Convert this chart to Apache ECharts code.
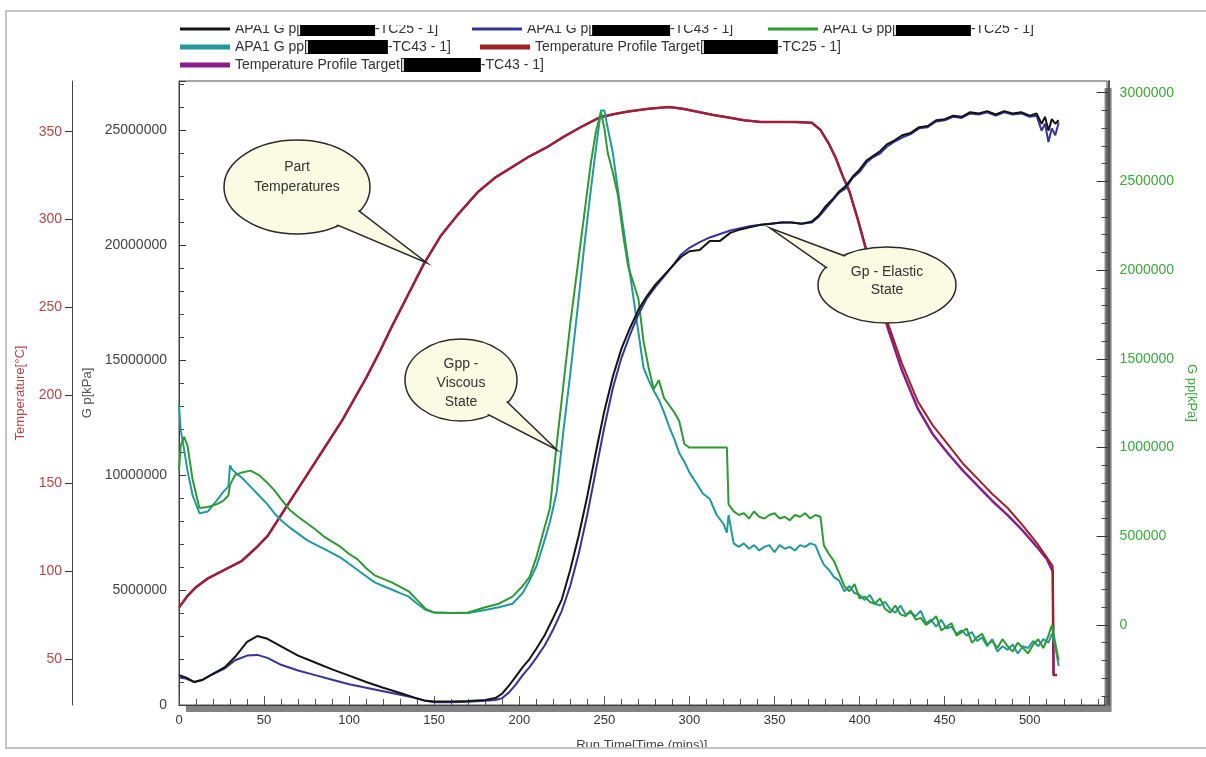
<!DOCTYPE html>
<html>
<head>
<meta charset="utf-8">
<title>Rheology run</title>
<script src="https://cdn.jsdelivr.net/npm/echarts@6/dist/echarts.min.js"></script>
<style>
  html, body { margin: 0; padding: 0; background: #fff; }
  #chart { width: 1206px; height: 757px; }
</style>
</head>
<body>
<div id="chart"></div>
<script>
// temperature profile targets (deg C) against run time (mins)
const tempTime = [0, 5, 10, 17, 27, 37, 46, 52, 56, 62, 70, 76, 86, 96, 103, 110, 118, 125, 135, 144,
  154, 164, 176, 186, 196, 206, 216, 226, 236, 247, 256, 264, 276, 288, 296, 304, 314, 323, 332, 342,
  352, 362, 372, 377, 382, 386, 390, 394, 399, 404, 410, 417, 425, 434, 443, 452, 461, 470, 478, 487,
  496, 505, 510, 513.5, 514, 516]
const tempTC25 = [79.5, 86, 91, 96, 101, 106, 114, 120, 126, 135, 147, 156, 171, 186, 198, 210, 225, 239, 258, 275,
  291, 303, 316, 324, 330, 336, 341, 347, 352.5, 358, 360, 361.5, 363, 364, 363, 361.5, 359.5, 358, 356.5, 355.5,
  355.5, 355.5, 355, 351, 343, 335, 325, 316, 300, 283, 262, 240, 218, 197, 183, 172, 161, 152, 144, 136,
  126, 115, 108, 103, 41, 41]
const tempTC43 = [79.5, 86, 91, 96, 101, 106, 114, 120, 126, 135, 147, 156, 171, 186, 198, 210, 225, 239, 258, 275,
  291, 303, 316, 324, 330, 336, 341, 347, 352.5, 358, 360, 361.5, 363, 364, 363, 361.5, 359.5, 358, 356.5, 355.5,
  355.5, 355.5, 355, 351, 343, 335, 325, 316, 300, 282, 260, 237, 214, 193, 178, 167, 157, 148, 140, 132,
  123, 113, 107, 100, 41, 41]

// G p (elastic), millions of kPa
const gpTime = [0, 4, 9, 14, 20, 27, 33, 40, 46, 52, 60, 70, 80, 90, 100, 110, 120, 130, 138, 144,
  150, 160, 170, 180, 186, 190, 194, 198, 202, 206, 210, 215, 220, 225, 230, 235, 240, 245, 250, 255,
  260, 265, 270, 275, 280, 285, 290, 295, 300, 306, 312, 318, 324, 330, 336, 342, 348, 354, 360, 366,
  372, 376, 380, 384, 388, 392, 396, 400, 404, 408, 412, 416, 420, 425, 430, 435, 440, 445, 450, 455,
  460, 465, 470, 475, 480, 485, 490, 495, 500, 504, 507, 509, 511, 513, 515, 517]
const gpTC25 = [1.3, 1.2, 1.0, 1.1, 1.35, 1.65, 2.1, 2.75, 3.0, 2.88, 2.55, 2.15, 1.85, 1.55, 1.28, 1.0, 0.75, 0.52, 0.33, 0.2,
  0.15, 0.15, 0.17, 0.22, 0.3, 0.5, 0.85, 1.25, 1.65, 2.0, 2.45, 3.05, 3.8, 4.6, 5.9, 7.4, 9.1, 11.0, 12.8, 14.3,
  15.5, 16.4, 17.2, 17.8, 18.3, 18.7, 19.1, 19.5, 19.75, 19.8, 20.2, 20.2, 20.55, 20.7, 20.8, 20.9, 20.95, 21.0, 21.0, 20.95,
  21.05, 21.3, 21.7, 22.0, 22.35, 22.6, 23.0, 23.3, 23.7, 23.9, 24.1, 24.4, 24.55, 24.8, 24.9, 25.15, 25.2, 25.45, 25.5, 25.65,
  25.6, 25.8, 25.75, 25.85, 25.7, 25.85, 25.75, 25.8, 25.65, 25.75, 25.3, 25.6, 25.0, 25.5, 25.3, 25.45]
const gpTC43 = [1.2, 1.15, 1.0, 1.1, 1.35, 1.6, 1.95, 2.15, 2.18, 2.05, 1.75, 1.5, 1.3, 1.1, 0.9, 0.75, 0.6, 0.45, 0.32, 0.2,
  0.12, 0.12, 0.14, 0.18, 0.22, 0.3, 0.55, 0.9, 1.3, 1.65, 2.05, 2.6, 3.3, 4.1, 5.2, 6.6, 8.3, 10.2, 12.1, 13.8,
  15.1, 16.1, 17.0, 17.7, 18.2, 18.65, 19.1, 19.6, 19.9, 20.15, 20.35, 20.5, 20.65, 20.75, 20.85, 20.9, 20.95, 21.0, 21.0, 20.95,
  21.0, 21.25, 21.6, 21.95, 22.3, 22.5, 22.95, 23.2, 23.6, 23.85, 24.0, 24.3, 24.5, 24.7, 24.85, 25.1, 25.15, 25.4, 25.45, 25.6,
  25.55, 25.75, 25.7, 25.8, 25.65, 25.8, 25.7, 25.75, 25.6, 25.65, 25.0, 25.3, 24.5, 25.1, 24.8, 25.35]

// G pp (viscous), millions of kPa
const gppTime = [0, 1, 3, 5, 8, 12, 17, 22, 26, 29, 30, 31, 33, 37, 42, 47, 52, 56, 60, 65,
  70, 75, 80, 85, 90, 95, 100, 105, 110, 115, 120, 125, 130, 135, 140, 145, 150, 160, 170, 180,
  188, 196, 202, 206, 210, 214, 218, 222, 226, 230, 234, 238, 242, 245, 248, 250, 252, 255, 258, 261,
  264, 267, 270, 273, 276, 279, 282, 285, 288, 291, 294, 297, 300, 304, 308, 312, 316, 320, 322, 323,
  326, 329, 332, 335, 338, 341, 344, 347, 350, 353, 356, 359, 362, 365, 368, 371, 374, 377, 379, 382,
  385, 388, 391, 394, 397, 400, 403, 406, 409, 412, 415, 418, 421, 424, 427, 430, 433, 436, 439, 442,
  445, 448, 451, 454, 457, 460, 463, 466, 469, 472, 475, 478, 481, 484, 487, 490, 493, 496, 499, 502,
  505, 508, 511, 513, 515, 517]
const gppTC25 = [0.87, 1.01, 1.06, 1.01, 0.82, 0.66, 0.665, 0.68, 0.70, 0.73, 0.79, 0.81, 0.845, 0.86, 0.87, 0.845, 0.80, 0.76, 0.71, 0.65,
  0.61, 0.575, 0.54, 0.50, 0.47, 0.44, 0.40, 0.37, 0.32, 0.28, 0.26, 0.24, 0.215, 0.19, 0.14, 0.09, 0.07, 0.068, 0.07, 0.10,
  0.12, 0.16, 0.22, 0.27, 0.38, 0.52, 0.66, 1.02, 1.36, 1.70, 2.0, 2.3, 2.6, 2.78, 2.89, 2.8, 2.66, 2.55, 2.42, 2.2,
  2.02, 1.93, 1.84, 1.6, 1.45, 1.33, 1.38, 1.28, 1.24, 1.2, 1.15, 1.02, 1.0, 1.0, 1.0, 1.0, 1.0, 1.0, 1.0, 0.68,
  0.64, 0.62, 0.63, 0.60, 0.64, 0.61, 0.60, 0.62, 0.63, 0.60, 0.61, 0.59, 0.62, 0.61, 0.63, 0.60, 0.62, 0.61, 0.45, 0.40,
  0.36, 0.29, 0.22, 0.19, 0.23, 0.15, 0.16, 0.13, 0.12, 0.15, 0.09, 0.07, 0.11, 0.06, 0.05, 0.08, 0.03, 0.04, 0.0, 0.02,
  0.05, -0.03, -0.01, 0.01, -0.06, -0.04, -0.02, -0.1, -0.07, -0.05, -0.11, -0.09, -0.13, -0.08, -0.12, -0.15, -0.1, -0.13, -0.16, -0.11,
  -0.08, -0.13, -0.06, 0.0, -0.1, -0.2]
const gppTC43 = [1.24, 1.1, 0.99, 0.87, 0.73, 0.63, 0.64, 0.70, 0.75, 0.78, 0.90, 0.88, 0.86, 0.83, 0.78, 0.73, 0.68, 0.63, 0.59, 0.55,
  0.515, 0.48, 0.455, 0.43, 0.405, 0.38, 0.345, 0.31, 0.275, 0.24, 0.22, 0.20, 0.18, 0.16, 0.12, 0.085, 0.07, 0.068, 0.068, 0.085,
  0.10, 0.12, 0.18, 0.25, 0.33, 0.45, 0.58, 0.75, 1.1, 1.42, 1.76, 2.12, 2.45, 2.68, 2.9, 2.9, 2.80, 2.66, 2.45, 2.25,
  2.05, 1.85, 1.65, 1.45, 1.38, 1.32, 1.27, 1.2, 1.12, 1.05, 0.97, 0.92, 0.86, 0.8, 0.74, 0.71, 0.62, 0.57, 0.52, 0.62,
  0.46, 0.44, 0.46, 0.43, 0.45, 0.42, 0.44, 0.45, 0.41, 0.45, 0.43, 0.44, 0.42, 0.45, 0.44, 0.46, 0.45, 0.38, 0.34, 0.31,
  0.27, 0.25, 0.19, 0.22, 0.18, 0.17, 0.14, 0.17, 0.12, 0.11, 0.13, 0.09, 0.07, 0.11, 0.06, 0.07, 0.05, 0.08, 0.01, 0.03,
  -0.01, 0.03, -0.02, -0.01, -0.05, -0.03, -0.06, -0.04, -0.09, -0.07, -0.12, -0.08, -0.15, -0.12, -0.14, -0.11, -0.16, -0.12, -0.13, -0.09,
  -0.12, -0.08, -0.1, -0.05, -0.12, -0.23]

const tempTicks = [50, 100, 150, 200, 250, 300, 350]
const gppTicks = [0, 500000, 1000000, 1500000, 2000000, 2500000, 3000000]

const MEGA = 1e6
const FONT = 'Liberation Sans, Arial, sans-serif'

const pairs = (xs, ys, scale = 1) => xs.map((x, i) => [x, ys[i] * scale])

// legend entries: label text either side of the redacted sample id
const legendItems = [
  { name: 'APA1 G p - TC25', pre: 'APA1 G p[', post: '-TC25 - 1]', color: '#141414', left: 180, top: 22, h: 3, box: 75 },
  { name: 'APA1 G p - TC43', pre: 'APA1 G p[', post: '-TC43 - 1]', color: '#34349a', left: 472, top: 22, h: 3, box: 78 },
  { name: 'APA1 G pp - TC25', pre: 'APA1 G pp[', post: '-TC25 - 1]', color: '#2f9a34', left: 768, top: 22, h: 3, box: 75 },
  { name: 'APA1 G pp - TC43', pre: 'APA1 G pp[', post: '-TC43 - 1]', color: '#24999c', left: 180, top: 40, h: 5, box: 80 },
  { name: 'Temperature Profile Target - TC25', pre: 'Temperature Profile Target[', post: '-TC25 - 1]', color: '#9e2228', left: 480, top: 40, h: 5, box: 74 },
  { name: 'Temperature Profile Target - TC43', pre: 'Temperature Profile Target[', post: '-TC43 - 1]', color: '#8a1d8c', left: 180, top: 58, h: 5, box: 77 }
]

const callouts = [
  { cx: 297, cy: 187, rx: 73, ry: 47, tail: [[330, 222], [355, 208], [427, 263]], text: 'Part\nTemperatures', ty: 177, lh: 20 },
  { cx: 461, cy: 380, rx: 56, ry: 41, tail: [[483, 412], [503, 398], [557, 450]], text: 'Gpp -\nViscous\nState', ty: 383, lh: 19 },
  { cx: 887, cy: 285, rx: 69, ry: 38, tail: [[830, 270], [850, 258], [770, 228]], text: 'Gp - Elastic\nState', ty: 281, lh: 18 }
]

const chart = echarts.init(document.getElementById('chart'))

const legends = legendItems.map((item) => ({
  data: [item.name],
  left: item.left,
  top: item.top,
  icon: 'rect',
  itemWidth: 50,
  itemHeight: item.h,
  selectedMode: false,
  padding: 0,
  formatter: () => '{t|' + item.pre + '}{r|\u00a0}{t|' + item.post + '}',
  textStyle: {
    fontFamily: FONT,
    fontSize: 14,
    color: '#333',
    rich: {
      t: { fontFamily: FONT, fontSize: 14, color: '#333' },
      r: { backgroundColor: '#000', width: item.box, height: 14 }
    }
  }
}))

const graphics = [
  // plot frame (drawn apart from the grid so its shadow stays outside)
  { type: 'rect', z: 1, silent: true, shape: { x: 179, y: 81, width: 928, height: 624 }, style: { fill: 'none', stroke: '#4a4a4a', lineWidth: 1 } },
  { type: 'rect', z: 100, silent: true, shape: { x: 160, y: 12, width: 960, height: 13 }, style: { fill: '#fff' } },
  { type: 'rect', z: 100, silent: true, shape: { x: 0, y: 749, width: 1206, height: 8 }, style: { fill: '#fff' } },
  { type: 'rect', z: 101, silent: true, shape: { x: 6, y: 11, width: 1210, height: 737 }, style: { fill: 'none', stroke: '#c4c4c4', lineWidth: 2 } }
]
callouts.forEach((c) => {
  graphics.push({ type: 'ellipse', z: 20, silent: true, shape: { cx: c.cx, cy: c.cy, rx: c.rx, ry: c.ry }, style: { fill: '#fbfae2', stroke: '#2a2a2a', lineWidth: 1.5 } })
  graphics.push({ type: 'polygon', z: 21, silent: true, shape: { points: c.tail }, style: { fill: '#fbfae2', stroke: '#2a2a2a', lineWidth: 1.5 } })
  graphics.push({ type: 'ellipse', z: 22, silent: true, shape: { cx: c.cx, cy: c.cy, rx: c.rx - 1.5, ry: c.ry - 1.5 }, style: { fill: '#fbfae2' } })
  graphics.push({
    type: 'text', z: 23, silent: true, x: c.cx, y: c.ty,
    style: { text: c.text, fontFamily: FONT, fontSize: 14, lineHeight: c.lh, fill: '#333', align: 'center', verticalAlign: 'middle' }
  })
})

const plainLabel = (v) => String(Math.round(v))

chart.setOption({
  animation: false,
  backgroundColor: '#fff',
  legend: legends,
  graphic: graphics,
  grid: {
    left: 179,
    right: 99,
    top: 81,
    bottom: 52,
    show: true,
    backgroundColor: '#fff',
    borderWidth: 0,
    shadowColor: 'rgba(90,90,90,0.75)',
    shadowOffsetX: 7,
    shadowOffsetY: 7,
    shadowBlur: 0
  },
  xAxis: {
    type: 'value',
    min: 0,
    max: 544,
    interval: 50,
    name: 'Run Time[Time (mins)]',
    nameLocation: 'middle',
    nameGap: 34,
    nameTextStyle: { fontFamily: FONT, fontSize: 13, color: '#444' },
    axisLine: { lineStyle: { color: '#333', width: 1 } },
    axisTick: { inside: true, length: 9, lineStyle: { color: '#555' } },
    minorTick: { show: true, splitNumber: 5, length: 6, lineStyle: { color: '#555' } },
    axisLabel: { margin: 9, fontFamily: FONT, fontSize: 13, color: '#333', showMaxLabel: false },
    splitLine: { show: false }
  },
  yAxis: [
    {
      type: 'value',
      position: 'left',
      min: 0,
      max: 27160000,
      interval: 5000000,
      name: 'G p[kPa]',
      nameLocation: 'middle',
      nameRotate: 90,
      nameGap: 84,
      nameTextStyle: { fontFamily: FONT, fontSize: 13, color: '#555' },
      axisLine: { show: true, lineStyle: { color: '#333' } },
      axisTick: { inside: true, length: 7, lineStyle: { color: '#333' } },
      minorTick: { show: true, splitNumber: 5, length: 5, lineStyle: { color: '#444' } },
      axisLabel: { margin: 12, fontFamily: FONT, fontSize: 14, color: '#444', showMaxLabel: false, formatter: plainLabel },
      splitLine: { show: false }
    },
    {
      type: 'value',
      position: 'left',
      offset: 107,
      min: 24,
      max: 378.8,
      splitNumber: 7,
      name: 'Temperature[°C]',
      nameLocation: 'middle',
      nameRotate: 90,
      nameGap: 45,
      nameTextStyle: { fontFamily: FONT, fontSize: 13, color: '#b5484a' },
      axisLine: { show: true, lineStyle: { color: '#444' } },
      axisTick: { length: 7, customValues: tempTicks, lineStyle: { color: '#333' } },
      axisLabel: { margin: 10, fontFamily: FONT, fontSize: 14, color: '#b5484a', customValues: tempTicks, formatter: plainLabel },
      splitLine: { show: false }
    },
    {
      type: 'value',
      position: 'right',
      offset: 4,
      min: -450900,
      max: 3066000,
      splitNumber: 7,
      name: 'G pp[kPa]',
      nameLocation: 'middle',
      nameRotate: -90,
      nameGap: 72,
      nameTextStyle: { fontFamily: FONT, fontSize: 13, color: '#3ca840' },
      axisLine: { show: true, lineStyle: { color: '#555', width: 2 } },
      axisTick: { inside: true, length: 12, customValues: gppTicks, lineStyle: { color: '#333' } },
      minorTick: { show: true, splitNumber: 5, length: 7, lineStyle: { color: '#444' } },
      axisLabel: { margin: 11, fontFamily: FONT, fontSize: 14, color: '#3ca840', customValues: gppTicks, formatter: plainLabel },
      splitLine: { show: false }
    }
  ],
  series: [
    {
      name: 'Temperature Profile Target - TC43', type: 'line', yAxisIndex: 1, showSymbol: false,
      data: pairs(tempTime, tempTC43), lineStyle: { width: 2.5, color: '#8a1d8c' }, itemStyle: { color: '#8a1d8c' }
    },
    {
      name: 'Temperature Profile Target - TC25', type: 'line', yAxisIndex: 1, showSymbol: false,
      data: pairs(tempTime, tempTC25), lineStyle: { width: 2, color: '#9e2228' }, itemStyle: { color: '#9e2228' }
    },
    {
      name: 'APA1 G pp - TC43', type: 'line', yAxisIndex: 2, showSymbol: false,
      data: pairs(gppTime, gppTC43, MEGA), lineStyle: { width: 2, color: '#24999c' }, itemStyle: { color: '#24999c' }
    },
    {
      name: 'APA1 G pp - TC25', type: 'line', yAxisIndex: 2, showSymbol: false,
      data: pairs(gppTime, gppTC25, MEGA), lineStyle: { width: 2, color: '#2f9a34' }, itemStyle: { color: '#2f9a34' }
    },
    {
      name: 'APA1 G p - TC43', type: 'line', yAxisIndex: 0, showSymbol: false,
      data: pairs(gpTime, gpTC43, MEGA), lineStyle: { width: 2, color: '#34349a' }, itemStyle: { color: '#34349a' }
    },
    {
      name: 'APA1 G p - TC25', type: 'line', yAxisIndex: 0, showSymbol: false,
      data: pairs(gpTime, gpTC25, MEGA), lineStyle: { width: 2, color: '#141414' }, itemStyle: { color: '#141414' }
    }
  ]
})
</script>
</body>
</html>
